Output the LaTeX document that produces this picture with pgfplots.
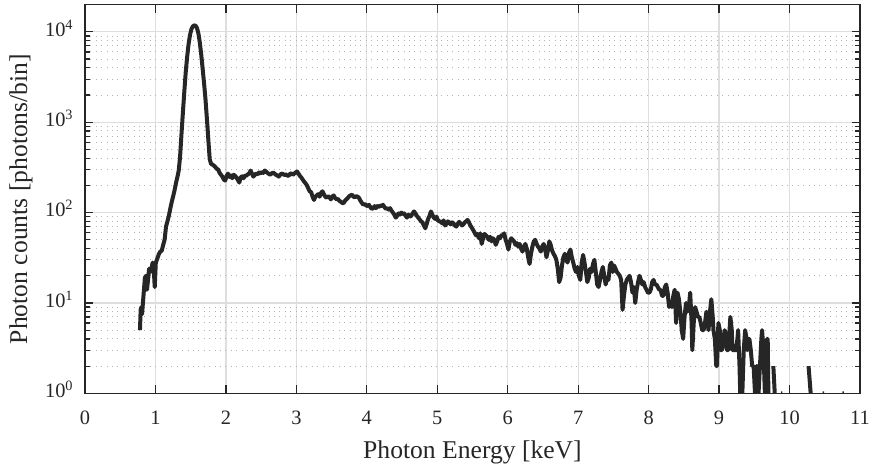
\documentclass[border=0pt]{standalone}
\usepackage{fontspec}
\setmainfont{Liberation Serif}
\usepackage{pgfplots}
\pgfplotsset{compat=1.18}
\definecolor{linec}{HTML}{262626}
\definecolor{axc}{HTML}{262626}
\begin{document}
\begin{tikzpicture}
\useasboundingbox (-42.5pt,-36.85pt) rectangle (395pt,196.65pt);
\begin{axis}[
  at={(0,0)}, anchor=south west,
  scale only axis, width=387.5pt, height=194.3pt,
  ymode=log, xmin=0, xmax=11, ymin=1, ymax=20000,
  xtick={0,1,...,11},
  ytick={1,10,100,1000,10000},
  yticklabels={10\textsuperscript{0},10\textsuperscript{1},10\textsuperscript{2},10\textsuperscript{3},10\textsuperscript{4}},
  minor ytick={2,3,4,5,6,7,8,9,20,30,40,50,60,70,80,90,200,300,400,500,600,700,800,900,2000,3000,4000,5000,6000,7000,8000,9000,20000},
  /pgf/number format/assume math mode=true,
  tick align=inside,
  major tick length=4pt, minor tick length=2.5pt,
  tick style={color=axc, line width=0.6pt},
  axis line style={color=axc, line width=0.8pt},
  xmajorgrids, ymajorgrids, yminorgrids,
  major grid style={color=black!13, line width=0.6pt},
  minor grid style={color=black!30, line width=0.5pt, dash pattern=on 0.5pt off 2.2pt},
  xticklabel style={font=\fontsize{10.2}{12}\selectfont, anchor=base, inner sep=0pt, yshift=-15.35pt, text=axc},
  yticklabel style={font=\fontsize{10.2}{12}\selectfont, anchor=base east, inner sep=0pt, xshift=-5.5pt, yshift=-2.2pt, text=axc},
  xlabel={Photon Energy [keV]},
  ylabel={Photon counts [photons/bin]},
  xlabel style={at={(axis description cs:0.5,-0.1665)}, anchor=base, inner sep=0pt, font=\fontsize{12.8}{15}\selectfont, text=axc},
  ylabel style={at={(axis description cs:-0.0981,0.5)}, anchor=north, inner sep=0pt, font=\fontsize{12.8}{15}\selectfont, text=axc},
  unbounded coords=jump,
]
\addplot[color=linec, line width=2pt, line join=round] table[x=x, y=y] {
x y
0.78 5
0.79 8.4
0.80 9
0.81 7.5
0.83 12
0.85 19
0.865 20
0.88 14
0.895 18
0.91 24
0.925 22
0.94 23
0.96 28
0.975 24
0.99 15
1.005 28
1.02 30
1.05 35
1.07 37
1.09 38
1.11 44
1.13 50
1.15 70
1.17 80
1.19 92
1.21 110
1.23 130
1.25 150
1.27 175
1.29 210
1.31 245
1.33 290
1.35 420
1.37 750
1.39 1300
1.41 2200
1.43 3600
1.45 5300
1.47 7300
1.49 9200
1.51 10700
1.53 11500
1.55 11800
1.57 11700
1.59 11000
1.61 9600
1.63 7600
1.65 5600
1.67 3900
1.69 2700
1.71 1800
1.73 1100
1.75 650
1.77 390
1.79 345
1.81 340
1.83 330
1.85 320
1.87 305
1.89 300
1.91 275
1.93 262
1.95 250
1.97 232
1.99 226
2.01 255
2.03 270
2.05 248
2.07 258
2.09 240
2.11 262
2.13 255
2.15 245
2.17 230
2.19 215
2.21 245
2.23 252
2.25 240
2.27 258
2.29 255
2.31 265
2.33 270
2.35 292
2.37 270
2.39 250
2.41 262
2.43 270
2.45 265
2.47 278
2.49 270
2.51 282
2.53 275
2.55 292
2.57 285
2.59 275
2.61 268
2.63 262
2.65 272
2.67 278
2.69 270
2.71 262
2.73 258
2.75 250
2.77 262
2.79 270
2.81 268
2.83 260
2.85 265
2.87 258
2.89 255
2.91 268
2.93 272
2.95 262
2.97 270
2.99 278
3.01 285
3.03 270
3.05 255
3.07 245
3.09 232
3.11 220
3.13 211
3.15 200
3.17 185
3.19 172
3.21 168
3.23 150
3.25 138
3.27 150
3.29 155
3.31 160
3.33 150
3.35 165
3.37 172
3.39 160
3.41 150
3.43 146
3.45 152
3.47 148
3.49 140
3.51 150
3.53 155
3.55 145
3.57 140
3.59 142
3.61 135
3.63 132
3.65 128
3.67 127
3.69 135
3.71 140
3.73 145
3.75 152
3.77 155
3.79 158
3.81 150
3.83 148
3.85 152
3.87 150
3.89 145
3.91 135
3.93 128
3.95 122
3.97 125
3.99 120
4.01 118
4.03 122
4.05 115
4.07 110
4.09 112
4.11 118
4.13 112
4.15 118
4.17 115
4.19 120
4.21 118
4.23 122
4.25 115
4.27 110
4.29 112
4.31 108
4.33 112
4.35 105
4.37 100
4.39 95
4.41 88
4.43 92
4.45 98
4.47 95
4.49 100
4.51 96
4.53 98
4.55 92
4.57 88
4.59 95
4.61 90
4.63 92
4.65 98
4.67 103
4.69 98
4.71 92
4.73 88
4.75 84
4.77 80
4.79 78
4.81 72
4.83 67
4.85 75
4.87 85
4.89 92
4.91 103
4.93 95
4.95 88
4.97 85
4.99 90
5.01 82
5.03 80
5.05 79
5.07 76
5.09 82
5.11 72
5.13 75
5.15 80
5.17 78
5.19 74
5.21 78
5.23 76
5.25 72
5.27 70
5.29 75
5.31 79
5.33 76
5.35 72
5.37 74
5.39 78
5.41 80
5.43 83
5.45 78
5.47 72
5.49 68
5.51 64
5.53 60
5.55 56
5.57 58
5.59 52
5.61 59
5.63 45
5.65 52
5.67 58
5.69 56
5.71 54
5.73 50
5.75 54
5.77 48
5.79 52
5.81 50
5.83 44
5.85 48
5.87 54
5.89 52
5.91 56
5.93 55
5.95 59
5.97 50
5.99 45
6.01 39
6.03 48
6.05 52
6.07 50
6.09 48
6.11 44
6.13 46
6.15 42
6.17 45
6.19 40
6.21 37
6.23 42
6.25 45
6.27 40
6.29 32
6.31 27
6.33 35
6.35 42
6.37 48
6.39 50
6.41 45
6.43 42
6.45 40
6.47 37
6.49 42
6.51 45
6.53 40
6.55 32
6.57 38
6.59 48
6.61 44
6.63 38
6.65 35
6.67 33
6.69 30
6.71 24
6.73 17
6.75 19
6.77 26
6.79 32
6.81 35
6.83 30
6.85 28
6.87 36
6.89 39
6.91 32
6.93 28
6.95 24
6.97 22
6.99 25
7.01 20
7.03 18
7.05 28
7.07 34
7.09 28
7.11 22
7.13 17
7.15 19
7.17 24
7.19 22
7.21 27
7.23 30
7.25 22
7.27 16
7.29 15
7.31 18
7.33 22
7.35 25
7.37 20
7.39 16
7.41 19
7.43 18
7.45 26
7.47 28
7.49 22
7.51 26
7.53 24
7.55 22
7.57 21
7.59 20
7.61 18
7.63 8.4
7.65 12
7.67 16
7.69 18
7.71 19
7.73 20
7.75 17
7.77 13
7.79 15
7.81 10
7.83 14
7.85 17
7.87 20
7.89 18
7.91 16
7.93 17
7.95 15
7.97 14
7.99 13
8.01 13
8.03 14
8.05 17
8.07 18
8.09 16
8.11 16
8.13 15
8.15 14
8.17 14
8.19 12
8.21 12
8.23 15
8.25 16
8.27 13
8.29 9
8.31 10
8.33 9
8.35 12
8.37 14
8.39 6
8.41 13
8.43 11
8.45 8
8.47 5
8.49 4
8.51 7
8.53 10
8.55 8
8.57 9
8.59 13
8.61 6
8.62 3
8.64 6
8.66 9
8.68 8
8.70 7
8.72 7
8.74 6
8.76 5
8.78 5
8.80 6
8.82 8
8.84 6
8.85 5
8.87 8
8.89 11
8.91 7
8.92 5
8.94 4
8.96 2
8.97 2
8.99 6
9.01 5
9.02 3
9.04 3
9.06 4
9.08 5
9.10 4
9.11 3
9.13 3
9.16 7
9.18 5
9.19 3
9.22 3
9.24 3
9.26 4
9.27 5
9.29 2
9.30 1
9.33 1
9.35 3
9.37 5
9.39 4
9.40 3
9.42 4
9.43 4
9.45 3
9.47 2
9.49 2
9.51 1
9.53 2
9.54 2
9.56 1
9.58 2
9.60 4
9.61 5
9.63 3
9.65 1
9.67 3
9.68 4
9.69 4
9.70 1
9.73 nan
9.77 2
9.79 1
9.83 nan
9.88 1
9.90 1
9.95 nan
10.27 2
10.30 1
10.40 nan
10.47 1
10.49 1
10.60 nan
10.75 1
10.77 1
};
\end{axis}
\end{tikzpicture}
\end{document}
